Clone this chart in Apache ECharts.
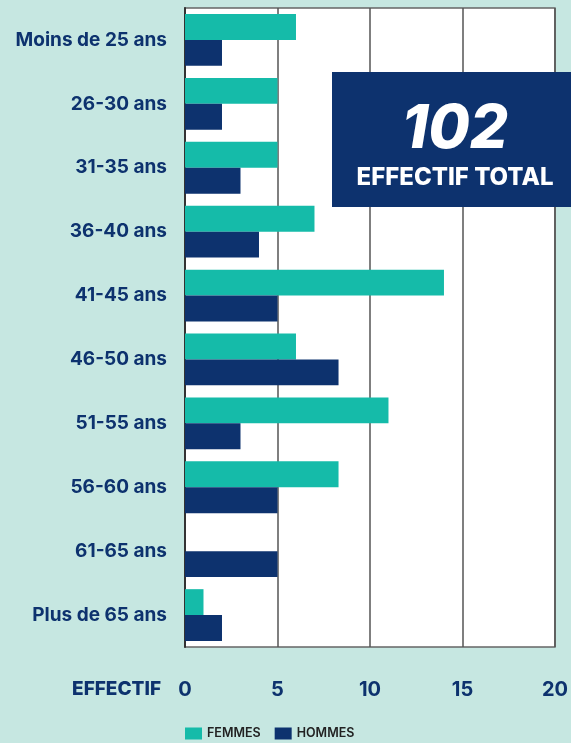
<!DOCTYPE html>
<html><head><meta charset="utf-8">
<script src="https://cdn.jsdelivr.net/npm/echarts@6/dist/echarts.min.js"></script>
<style>html,body{margin:0;padding:0;background:#c6e7e1;}#c{width:571px;height:743px;}</style>
</head><body><div id="c"></div>
<script>
const categories = ["Moins de 25 ans","26-30 ans","31-35 ans","36-40 ans","41-45 ans","46-50 ans","51-55 ans","56-60 ans","61-65 ans","Plus de 65 ans"];
const femmes = [6,5,5,7,14,6,11,8.3,0,1];
const hommes = [2,2,3,4,5,8.3,3,5,5,2];
const xTicks = [0,5,10,15,20];
const totalLabel = "102";
const totalCaption = "EFFECTIF TOTAL";
const axisTitle = "EFFECTIF";

const FONT = "Inter";
const NAVY = "#0d326e";
const TEAL = "#15bba9";
const chart = echarts.init(document.getElementById('c'), null, {renderer:'canvas'});
chart.setOption({
  backgroundColor: '#c6e7e1',
  animation: false,
  textStyle: {fontFamily: FONT},
  grid: {left: 185, right: 14, top: 8, bottom: 96, show: true, backgroundColor: '#ffffff', borderColor: '#666', borderWidth: 1.5},
  legend: {
    bottom: -2, left: 180, itemWidth: 17, itemHeight: 12, itemGap: 14,
    icon: 'rect',
    textStyle: {fontFamily: FONT, fontSize: 12.5, fontWeight: 600, color: '#222'},
    data: ['FEMMES','HOMMES']
  },
  xAxis: {
    type: 'value', min: 0, max: 20, interval: 5,
    axisLine: {show: false}, axisTick: {show: false},
    splitLine: {show: true, lineStyle: {color: '#555', width: 1.5}},
    axisLabel: {margin: 33, fontFamily: FONT, fontWeight: 700, fontSize: 20, color: NAVY,
      formatter: v => xTicks.includes(v) ? String(v) : ''}
  },
  yAxis: {
    type: 'category', inverse: true, data: categories,
    axisTick: {show: false},
    axisLine: {show: true, lineStyle: {color: '#333', width: 2}},
    axisLabel: {margin: 18, fontFamily: FONT, fontWeight: 700, fontSize: 19, color: NAVY}
  },
  series: [
    {name: 'FEMMES', type: 'bar', data: femmes, itemStyle: {color: TEAL}, barGap: '0%', barCategoryGap: '19%'},
    {name: 'HOMMES', type: 'bar', data: hommes, itemStyle: {color: NAVY}, barGap: '0%', barCategoryGap: '19%'}
  ],
  graphic: [
    {type: 'rect', z: 100, shape: {x: 332, y: 72, width: 239, height: 135}, style: {fill: NAVY}},
    {type: 'text', z: 101, x: 455, y: 130, style: {text: totalLabel, fill: '#fff', font: 'italic 800 60px ' + FONT, textAlign: 'center', textVerticalAlign: 'middle'}},
    {type: 'text', z: 101, x: 455, y: 178, style: {text: totalCaption, fill: '#fff', font: '800 24px ' + FONT, textAlign: 'center', textVerticalAlign: 'middle'}},
    {type: 'text', z: 101, x: 161, y: 689, style: {text: axisTitle, fill: NAVY, font: '800 19px ' + FONT, textAlign: 'right', textVerticalAlign: 'middle'}}
  ]
});
</script></body></html>
